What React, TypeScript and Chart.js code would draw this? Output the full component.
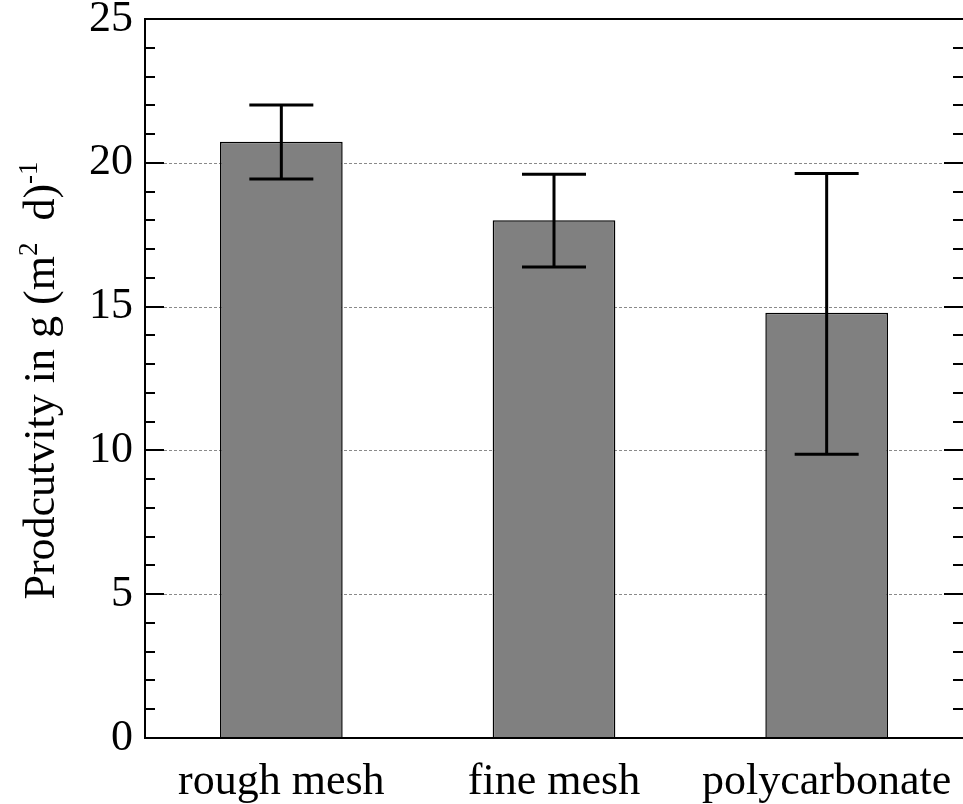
import React, { useEffect, useRef } from "react";
import { Chart, registerables } from "chart.js";

Chart.register(...registerables);

const categories = ["rough mesh", "fine mesh", "polycarbonate"];
const values = [20.73, 18.0, 14.79];
const errLow = [19.44, 16.38, 9.87];
const errHigh = [22.01, 19.6, 19.63];
const yTickValues = [0, 5, 10, 15, 20, 25];
const gridValues = [5, 10, 15, 20];
const titleParts = [
  { text: "Prodcutvity in g (m", sup: false },
  { text: "2", sup: true },
  { text: "  d)", sup: false },
  { text: "-1", sup: true },
];

const FONT = "'Liberation Serif', 'Times New Roman', serif";

const framePlugin = {
  id: "framePlugin",
  beforeDatasetsDraw(chart: any) {
    const { ctx, chartArea } = chart;
    const y = chart.scales.y;
    ctx.save();
    ctx.strokeStyle = "#8a8a8a";
    ctx.lineWidth = 1.2;
    ctx.setLineDash([3, 2]);
    gridValues.forEach((v) => {
      const py = Math.round(y.getPixelForValue(v)) + 0.5;
      ctx.beginPath();
      ctx.moveTo(chartArea.left + 19, py);
      ctx.lineTo(chartArea.right - 18, py);
      ctx.stroke();
    });
    ctx.restore();
  },
  afterDatasetsDraw(chart: any) {
    const { ctx, chartArea } = chart;
    const x = chart.scales.x;
    const y = chart.scales.y;
    ctx.save();
    // error bars
    ctx.strokeStyle = "#000";
    ctx.lineWidth = 3;
    ctx.setLineDash([]);
    categories.forEach((_, i) => {
      const cx = x.getPixelForValue(i);
      const yl = y.getPixelForValue(errLow[i]);
      const yh = y.getPixelForValue(errHigh[i]);
      ctx.beginPath();
      ctx.moveTo(cx, yl);
      ctx.lineTo(cx, yh);
      ctx.moveTo(cx - 32, yh);
      ctx.lineTo(cx + 32, yh);
      ctx.moveTo(cx - 32, yl);
      ctx.lineTo(cx + 32, yl);
      ctx.stroke();
    });
    // frame
    ctx.lineWidth = 2;
    ctx.beginPath();
    ctx.moveTo(chartArea.right, chartArea.top);
    ctx.lineTo(chartArea.left, chartArea.top);
    ctx.lineTo(chartArea.left, chartArea.bottom);
    ctx.lineTo(chartArea.right, chartArea.bottom);
    ctx.stroke();
    // ticks (minor every 1, major every 5), inward on both sides
    const min = y.min;
    const max = y.max;
    for (let v = min; v <= max; v += 1) {
      const major = v % 5 === 0;
      const py = Math.round(y.getPixelForValue(v));
      const len = major ? 19 : 10;
      ctx.beginPath();
      ctx.moveTo(chartArea.left, py);
      ctx.lineTo(chartArea.left + len, py);
      ctx.moveTo(chartArea.right, py);
      ctx.lineTo(chartArea.right - len, py);
      ctx.stroke();
    }
    ctx.restore();
  },
  afterDraw(chart: any) {
    const { ctx, chartArea } = chart;
    const size = 44;
    const supSize = 27;
    ctx.save();
    const cy = (chartArea.top + chartArea.bottom) / 2 + 2;
    ctx.translate(54, cy);
    ctx.rotate(-Math.PI / 2);
    ctx.fillStyle = "#000";
    ctx.textBaseline = "alphabetic";
    ctx.textAlign = "left";
    let total = 0;
    const widths = titleParts.map((p) => {
      ctx.font = `${p.sup ? supSize : size}px ${FONT}`;
      const w = ctx.measureText(p.text).width;
      total += w;
      return w;
    });
    let px = -total / 2;
    titleParts.forEach((p, i) => {
      ctx.font = `${p.sup ? supSize : size}px ${FONT}`;
      ctx.fillText(p.text, px, p.sup ? -17 : 0);
      px += widths[i];
    });
    ctx.restore();
  },
};

export default function App() {
  const ref = useRef<HTMLCanvasElement>(null);
  useEffect(() => {
    document.body.style.margin = "0";
    const canvas = ref.current!;
    const chart = new Chart(canvas, {
      type: "bar",
      data: {
        labels: categories,
        datasets: [
          {
            data: values,
            backgroundColor: "#808080",
            borderColor: "#000",
            borderWidth: 1.5,
            barPercentage: 0.45,
            categoryPercentage: 1,
          },
        ],
      },
      options: {
        animation: false,
        responsive: false,
        maintainAspectRatio: false,
        layout: { padding: { top: 19, right: 0, left: 0, bottom: 0 } },
        plugins: {
          legend: { display: false },
          tooltip: { enabled: false },
          title: { display: false },
        },
        scales: {
          x: {
            grid: { display: false },
            border: { display: false },
            ticks: {
              color: "#000",
              font: { family: FONT, size: 44 },
              padding: 10,
              maxRotation: 0,
              autoSkip: false,
            },
            afterFit(scale: any) {
              scale.height = 66;
              scale.paddingLeft = 0;
              scale.paddingRight = 0;
            },
          },
          y: {
            min: 0,
            max: 25,
            grid: { display: false, drawTicks: false },
            border: { display: false },
            afterBuildTicks(scale: any) {
              scale.ticks = yTickValues.map((v) => ({ value: v }));
            },
            ticks: {
              color: "#000",
              font: { family: FONT, size: 44, lineHeight: 0.8 },
              padding: 12,
            },
            afterFit(scale: any) {
              scale.width = 145;
              scale.paddingTop = 0;
              scale.paddingBottom = 0;
            },
          },
        },
      },
      plugins: [framePlugin],
    });
    return () => chart.destroy();
  }, []);
  return <canvas ref={ref} width={963} height={804} style={{ display: "block" }} />;
}
